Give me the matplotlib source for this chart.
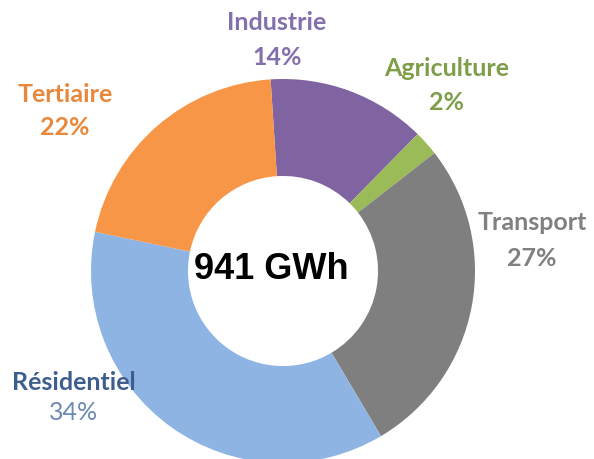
import matplotlib
matplotlib.use('Agg')
import matplotlib.pyplot as plt

# clockwise from the top
sectors = ['Industrie', 'Agriculture', 'Transport', 'Résidentiel', 'Tertiaire']
shares = [13.4, 2.1, 27.0, 36.8, 20.7]
pct_labels = ['14%', '2%', '27%', '34%', '22%']
total_label = '941 GWh'

colors = ['#8064A2', '#9BBB59', '#7F7F7F', '#8DB4E2', '#F79646']
name_colors = ['#8470AC', '#7E9E4A', '#808080', '#3E5F8E', '#E8883C']
pct_colors = ['#8470AC', '#7E9E4A', '#808080', '#6C88B4', '#E8883C']
# label centres in pixels (x, y of name line), image is 594x460
label_pos = [(277, 23), (447, 69), (532, 223), (74, 383), (65, 94)]
pct_dy = [35, 34, 36, 30, 34]

W, H = 594, 460
fig = plt.figure(figsize=(W / 100, H / 100), dpi=100)
cx, cy, R = 283, 272, 192
ax = fig.add_axes([(cx - R) / W, (H - cy - R) / H, 2 * R / W, 2 * R / H])
ax.pie(shares, colors=colors, startangle=93.7, counterclock=False, radius=1,
       wedgeprops=dict(width=0.505, edgecolor='none'))
ax.set_xlim(-1, 1)
ax.set_ylim(-1, 1)
ax.set_aspect('equal')
ax.axis('off')

ax.text(-0.06, 0.015, total_label, ha='center', va='center', fontsize=26,
        fontweight='bold', family='Liberation Sans', color='black')

for name, pct, (px, py), dy, c1, c2 in zip(sectors, pct_labels, label_pos, pct_dy, name_colors, pct_colors):
    fig.text(px / W, 1 - py / H, name, ha='center', va='center', fontsize=18,
             fontweight='bold', family='Lato', color=c1)
    fig.text(px / W, 1 - (py + dy) / H, pct, ha='center', va='center', fontsize=18,
             fontweight='bold' if name != 'Résidentiel' else 'normal', family='Lato', color=c2)

fig.savefig('out.png', dpi=100)
